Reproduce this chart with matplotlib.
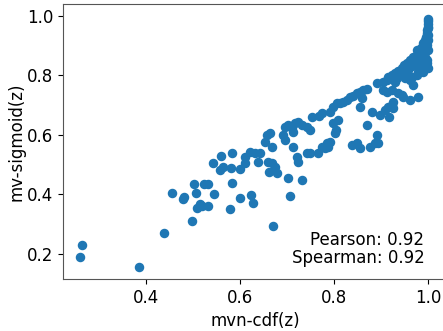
import numpy as np
import matplotlib
matplotlib.use("Agg")
import matplotlib.pyplot as plt

# mvn-cdf(z) vs mv-sigmoid(z)
mvn_cdf = [
    0.2645, 0.260, 0.385, 0.438, 0.456, 0.4815, 0.479, 0.502, 0.5064, 0.497,
    0.508, 0.515, 0.5185, 0.531, 0.5228, 0.5326, 0.5447, 0.5787, 0.583, 0.5994,
    0.6228, 0.627, 0.5432, 0.5602, 0.5574, 0.5645, 0.580, 0.583, 0.600, 0.6106,
    0.6113, 0.6213, 0.6319, 0.6426, 0.639, 0.6602, 0.6674, 0.6745, 0.678, 0.6623,
    0.6532, 0.6674, 0.6568, 0.6638, 0.7028, 0.7313, 0.7064, 0.6696, 0.6957, 0.7134,
    0.7206, 0.724, 0.7419, 0.7489, 0.7666, 0.7809, 0.7879, 0.7915, 0.6921, 0.6957,
    0.7028, 0.710, 0.717, 0.724, 0.7313, 0.742, 0.7489, 0.7134, 0.7526, 0.7687,
    0.7738, 0.7845, 0.7915, 0.7985, 0.8057, 0.7985, 0.8043, 0.8021, 0.7738, 0.8128,
    0.8198, 0.827, 0.834, 0.8411, 0.8483, 0.8553, 0.8623, 0.8696, 0.8091, 0.8553,
    0.8802, 0.8696, 0.8377, 0.8483, 0.8553, 0.8766, 0.8872, 0.8943, 0.8909, 0.8979,
    0.9085, 0.9155, 0.9228, 0.9262, 0.9177, 0.8909, 0.9049, 0.9121, 0.9155, 0.9228,
    0.9298, 0.9368, 0.944, 0.9489, 0.9547, 0.9617, 0.9687, 0.976, 0.9794, 0.983,
    0.9866, 0.990, 0.9936, 0.9957, 0.9972, 0.9985, 0.9994, 0.9995, 0.9996, 0.9997,
    0.905, 0.9121, 0.9228, 0.9368, 0.9474, 0.9617, 0.9794, 0.9687, 0.9334, 0.9474,
    0.9653, 0.976, 0.990, 0.9996, 0.9794, 0.983, 0.9972, 0.976, 0.983, 0.9936,
    0.9972, 0.951, 0.9617, 0.9866, 0.9298, 0.9262, 0.944, 0.8589, 0.9574, 0.966,
    0.9723, 0.9872, 0.9915, 0.9979, 0.999, 0.9996, 0.9996, 0.9996, 0.9936, 0.977,
]
mv_sigmoid = [
    0.229, 0.190, 0.154, 0.2686, 0.403, 0.3916, 0.383, 0.4333, 0.405, 0.311,
    0.3526, 0.367, 0.360, 0.360, 0.4333, 0.4333, 0.4007, 0.349, 0.4387, 0.386,
    0.397, 0.3694, 0.5059, 0.5284, 0.4813, 0.4924, 0.487, 0.5395, 0.4837, 0.526,
    0.5039, 0.5429, 0.5375, 0.5375, 0.509, 0.509, 0.5039, 0.4924, 0.4703, 0.4756,
    0.5765, 0.5597, 0.599, 0.6047, 0.4534, 0.4477, 0.394, 0.2931, 0.5822, 0.5576,
    0.526, 0.5092, 0.5395, 0.5375, 0.5395, 0.5543, 0.5597, 0.5765, 0.599, 0.6269,
    0.6326, 0.6215, 0.6383, 0.6437, 0.6326, 0.6269, 0.6158, 0.6079, 0.6605, 0.6629,
    0.5597, 0.5711, 0.6773, 0.6941, 0.7055, 0.6383, 0.6158, 0.6047, 0.6719, 0.7055,
    0.7109, 0.7166, 0.7257, 0.7301, 0.7392, 0.7445, 0.7503, 0.7526, 0.6494, 0.6941,
    0.6773, 0.6326, 0.5654, 0.5711, 0.5543, 0.5597, 0.5711, 0.5711, 0.599, 0.6662,
    0.6832, 0.6941, 0.6998, 0.6887, 0.6605, 0.7728, 0.7782, 0.7839, 0.795, 0.8007,
    0.8064, 0.8151, 0.8232, 0.8343, 0.842, 0.8511, 0.8602, 0.8679, 0.879, 0.887,
    0.8958, 0.9072, 0.9183, 0.9294, 0.9408, 0.952, 0.963, 0.972, 0.982, 0.990,
    0.7503, 0.7445, 0.7503, 0.7392, 0.7277, 0.7166, 0.7277, 0.7671, 0.7896, 0.8007,
    0.795, 0.8007, 0.8118, 0.8232, 0.8118, 0.8343, 0.840, 0.8847, 0.8736, 0.8622,
    0.8511, 0.7896, 0.7839, 0.8232, 0.7782, 0.711, 0.7334, 0.7224, 0.8176, 0.8309,
    0.8444, 0.8578, 0.8779, 0.9015, 0.8847, 0.9183, 0.935, 0.959, 0.891, 0.835,
]
pearson = 0.92
spearman = 0.92

fig = plt.figure(figsize=(4.43, 3.31), dpi=100)
ax = fig.add_axes([0.1422, 0.157, 0.866, 0.8308])

ax.scatter(mvn_cdf, mv_sigmoid, s=34, color="#1f77b4")
ax.set_xlim(0.2234, 1.0396)
ax.set_ylim(0.115, 1.039)
ax.set_xticks([0.4, 0.6, 0.8, 1.0])
ax.set_yticks([0.2, 0.4, 0.6, 0.8, 1.0])
ax.tick_params(labelsize=12)
for sp in ax.spines.values():
    sp.set_color("#555555")

ax.set_xlabel("mvn-cdf(z)", fontsize=12)
ax.set_ylabel("mv-sigmoid(z)", fontsize=12, labelpad=1)
ax.text(0.942, 0.045, f"Pearson: {pearson:.2f}\nSpearman: {spearman:.2f}",
        transform=ax.transAxes, ha="right", va="bottom", fontsize=12,
        linespacing=0.95)

fig.savefig("out.png", dpi=100)
